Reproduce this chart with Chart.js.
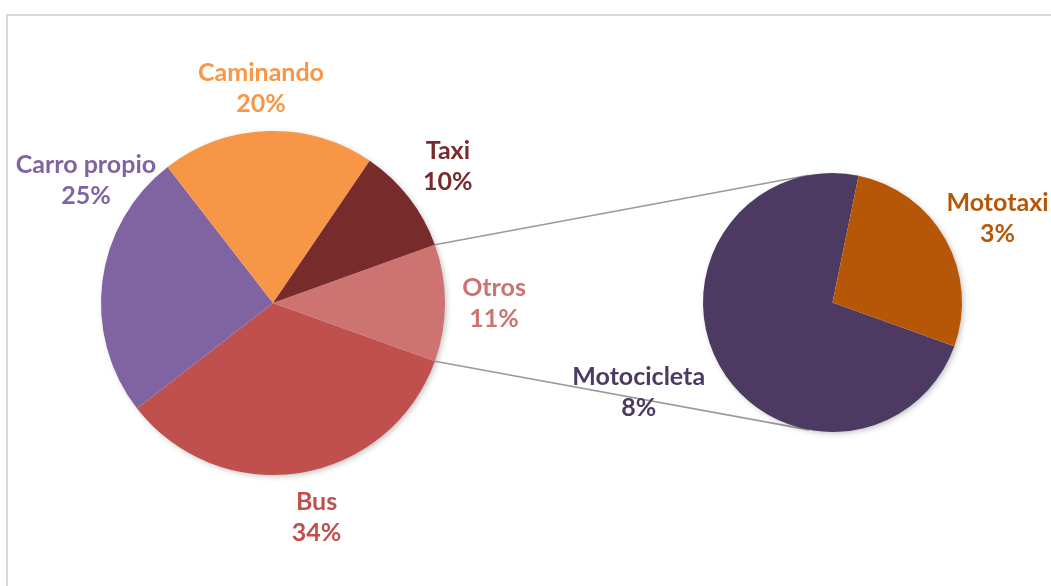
<!DOCTYPE html>
<html>
<head>
<meta charset="utf-8">
<script src="https://cdn.jsdelivr.net/npm/chart.js@4.4.1/dist/chart.umd.min.js"></script>
<style>
  body { margin: 0; background: #fff; overflow: hidden; }
  #wrap { position: relative; width: 1051px; height: 586px; }
  #frame { position: absolute; left: 6px; top: 14px; width: 1200px; height: 700px;
           border-top: 2px solid #d9d9d9; border-left: 2px solid #d9d9d9; }
  canvas { position: absolute; left: 0; top: 0; }
</style>
</head>
<body>
<div id="wrap">
  <div id="frame"></div>
  <canvas id="mainPie" width="1051" height="586"></canvas>
  <canvas id="subPie" width="1051" height="586"></canvas>
</div>
<script>
// clockwise from the slice that is split out
const mainLabels = ["Otros", "Bus", "Carro propio", "Caminando", "Taxi"];
const mainValues = [11, 34, 25, 20, 10];
const subLabels = ["Motocicleta", "Mototaxi"];
const subValues = [8, 3];

const mainColors = ["#cd7371", "#c0504d", "#8064a2", "#f79646", "#772b2a"];
const subColors = ["#4d3a62", "#b65708"];

// label placement: shift from slice middle (deg), distance as share of radius
const mainLabelPlace = [[0, 1.285], [-2.5, 1.27], [26, 1.30], [-1.4, 1.25], [-0.2, 1.29]];
const subLabelPlace = [[4.4, 1.65], [2.3, 1.43]];

const total = mainValues.reduce((a, b) => a + b, 0);
const otros = mainValues[0];
const FONT = "bold 25px Lato";

function shadowPlugin() {
  return {
    id: 'pieShadow',
    beforeDatasetsDraw(chart) {
      const arc = chart.getDatasetMeta(0).data[0];
      const ctx = chart.ctx;
      ctx.save();
      ctx.shadowColor = 'rgba(0,0,0,0.28)';
      ctx.shadowBlur = 6;
      ctx.shadowOffsetX = 2;
      ctx.shadowOffsetY = 2;
      ctx.beginPath();
      ctx.arc(arc.x, arc.y, arc.outerRadius - 1, 0, Math.PI * 2);
      ctx.fillStyle = '#fff';
      ctx.fill();
      ctx.restore();
    }
  };
}

function labelPlugin(labels, values, colors, place) {
  return {
    id: 'sliceLabels',
    afterDatasetsDraw(chart) {
      const ctx = chart.ctx;
      ctx.save();
      ctx.font = FONT;
      ctx.textAlign = 'center';
      ctx.textBaseline = 'middle';
      chart.getDatasetMeta(0).data.forEach((arc, i) => {
        const a = (arc.startAngle + arc.endAngle) / 2 + place[i][0] * Math.PI / 180;
        const d = arc.outerRadius * place[i][1];
        const x = arc.x + Math.cos(a) * d;
        const y = arc.y + Math.sin(a) * d;
        ctx.fillStyle = colors[i];
        ctx.fillText(labels[i], x, y - 15.5);
        ctx.fillText(Math.round(values[i] / total * 100) + '%', x, y + 15.5);
      });
      ctx.restore();
    }
  };
}

const pieOptions = (pad) => ({
  responsive: false,
  animation: false,
  events: [],
  layout: { padding: pad },
  plugins: { legend: { display: false }, tooltip: { enabled: false } }
});

const mainChart = new Chart(document.getElementById('mainPie'), {
  type: 'pie',
  data: {
    labels: mainLabels,
    datasets: [{ data: mainValues, backgroundColor: mainColors, borderWidth: 0 }]
  },
  options: Object.assign(pieOptions({ left: 101, right: 606, top: 131, bottom: 111 }), {
    rotation: 90 - 180 * otros / total
  }),
  plugins: [shadowPlugin(), labelPlugin(mainLabels, mainValues, mainColors, mainLabelPlace)]
});

const connectorPlugin = {
  id: 'connectors',
  beforeDatasetsDraw(chart) {
    const src = mainChart.getDatasetMeta(0).data[0];
    const dst = chart.getDatasetMeta(0).data[0];
    const ctx = chart.ctx;
    ctx.save();
    ctx.strokeStyle = '#9a9a9a';
    ctx.lineWidth = 1.6;
    [[src.startAngle, 1], [src.endAngle, -1]].forEach(([ang, side]) => {
      const px = src.x + Math.cos(ang) * src.outerRadius;
      const py = src.y + Math.sin(ang) * src.outerRadius;
      const dx = px - dst.x, dy = py - dst.y;
      const dist = Math.hypot(dx, dy);
      const phi = Math.atan2(dy, dx);
      const alpha = Math.acos(dst.outerRadius / dist);
      const t = phi + side * alpha;
      ctx.beginPath();
      ctx.moveTo(px, py);
      ctx.lineTo(dst.x + Math.cos(t) * dst.outerRadius, dst.y + Math.sin(t) * dst.outerRadius);
      ctx.stroke();
    });
    ctx.restore();
  }
};

new Chart(document.getElementById('subPie'), {
  type: 'pie',
  data: {
    labels: subLabels,
    datasets: [{ data: subValues, backgroundColor: subColors, borderWidth: 0 }]
  },
  options: Object.assign(pieOptions({ left: 703, right: 89, top: 173, bottom: 154 }), {
    rotation: 90 + 180 * otros / total
  }),
  plugins: [connectorPlugin, shadowPlugin(), labelPlugin(subLabels, subValues, subColors, subLabelPlace)]
});
</script>
</body>
</html>
